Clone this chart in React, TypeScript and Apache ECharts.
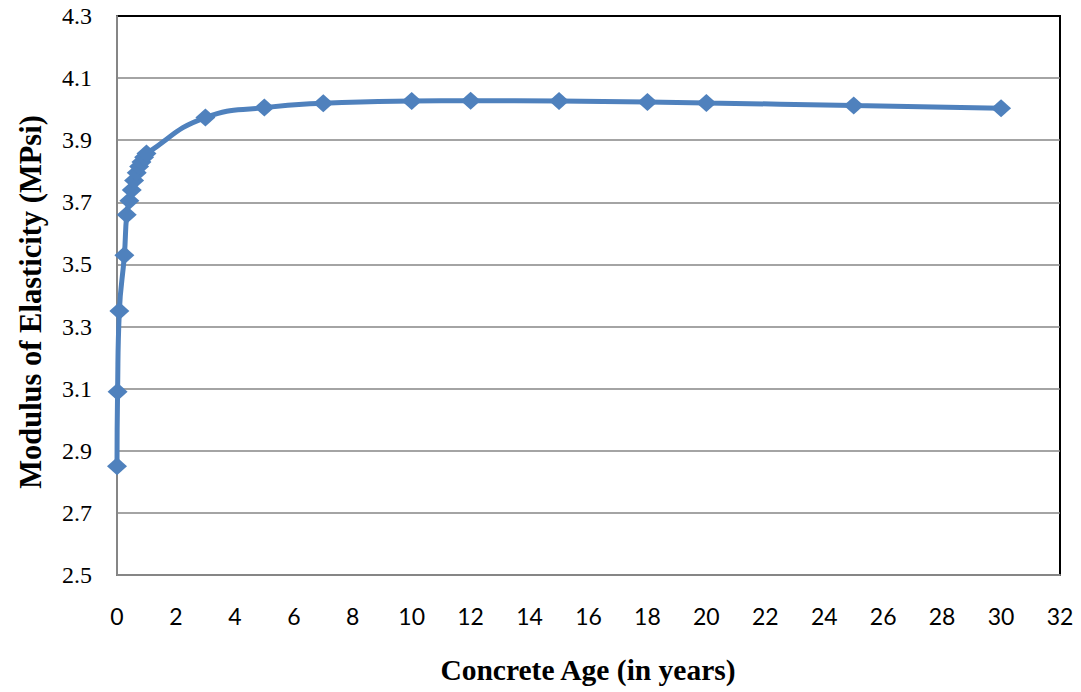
import React, { useEffect, useRef } from "react";
import * as echarts from "echarts";

const ageYears = [0, 0.02, 0.08, 0.25, 0.33, 0.42, 0.5, 0.58, 0.67, 0.75, 0.83, 0.92, 1, 3, 5, 7, 10, 12, 15, 18, 20, 25, 30];
const modulus = [2.85, 3.09, 3.35, 3.53, 3.66, 3.705, 3.74, 3.77, 3.795, 3.815, 3.83, 3.845, 3.857, 3.973, 4.005, 4.019, 4.026, 4.027, 4.026, 4.023, 4.02, 4.012, 4.003];
const xTitle = "Concrete Age (in years)";
const yTitle = "Modulus of Elasticity (MPsi)";

export default function App() {
  const ref = useRef<HTMLDivElement>(null);
  useEffect(() => {
    document.body.style.margin = "0";
    if (!ref.current) return;
    const chart = echarts.init(ref.current, null, { renderer: "svg" });
    const data = ageYears.map((x, i) => [x, modulus[i]]);
    chart.setOption({
      animation: false,
      backgroundColor: "#fff",
      grid: {
        left: 117,
        right: 21,
        top: 16,
        bottom: 117,
        show: true,
        borderColor: "#000",
        borderWidth: 2,
        backgroundColor: "transparent",
      },
      xAxis: {
        type: "value",
        min: 0,
        max: 32,
        interval: 2,
        axisLine: { show: true, lineStyle: { color: "#868686", width: 2 } },
        axisTick: { show: false },
        splitLine: { show: false },
        axisLabel: {
          color: "#000",
          fontFamily: "Lato",
          fontSize: 23,
          margin: 29,
        },
      },
      yAxis: {
        type: "value",
        min: 2.5,
        max: 4.3,
        interval: 0.2,
        axisLine: { show: true, lineStyle: { color: "#868686", width: 2 } },
        axisTick: { show: false },
        splitLine: {
          show: true,
          showMinLine: false,
          showMaxLine: false,
          lineStyle: { color: "#868686", width: 1.5 },
        },
        axisLabel: {
          color: "#000",
          fontFamily: "Liberation Serif",
          fontSize: 24,
          margin: 25,
          formatter: (v: number) => v.toFixed(1),
        },
      },
      graphic: [
        {
          type: "text",
          x: 588,
          y: 670,
          style: {
            text: xTitle,
            fontFamily: "Liberation Serif",
            fontWeight: "bold",
            fontSize: 29.5,
            fill: "#000",
            textAlign: "center",
            textVerticalAlign: "middle",
          },
        },
        {
          type: "text",
          x: 31,
          y: 302,
          rotation: Math.PI / 2,
          style: {
            text: yTitle,
            fontFamily: "Liberation Serif",
            fontWeight: "bold",
            fontSize: 30.5,
            fill: "#000",
            textAlign: "center",
            textVerticalAlign: "middle",
          },
        },
      ],
      series: [
        {
          type: "line",
          data,
          smooth: 0.5,
          symbol: "diamond",
          symbolSize: [20, 18],
          itemStyle: { color: "#4F81BD" },
          lineStyle: { color: "#4F81BD", width: 5 },
        },
      ],
    });
    return () => chart.dispose();
  }, []);
  return <div ref={ref} style={{ width: 1081, height: 692 }} />;
}
